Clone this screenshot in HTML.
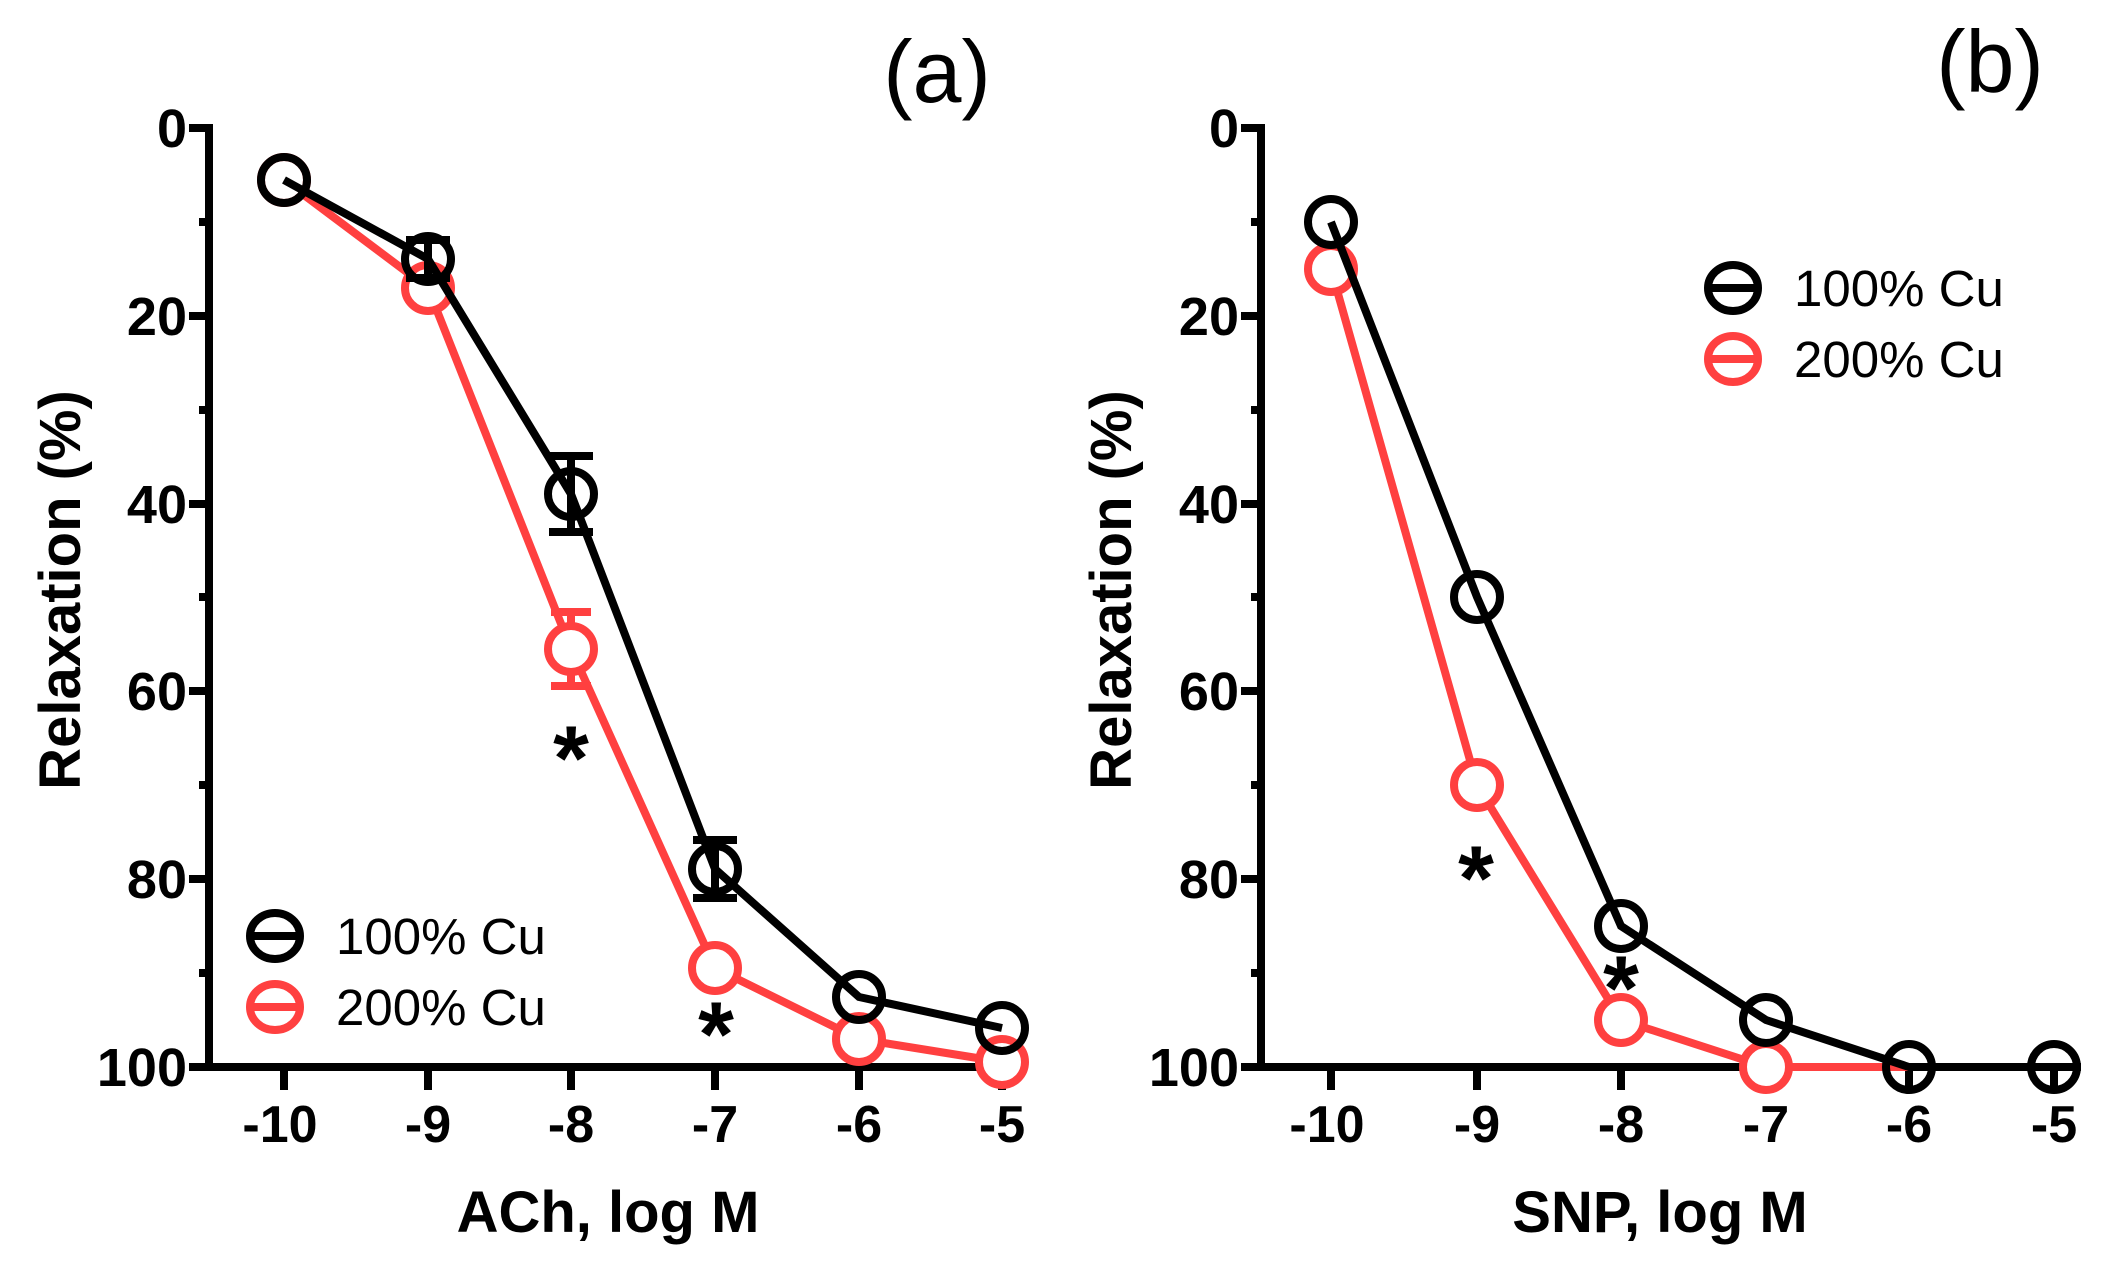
<!DOCTYPE html>
<html><head><meta charset="utf-8"><style>html,body{margin:0;padding:0;background:#fff}svg{display:block}</style></head>
<body>
<svg width="2108" height="1262" viewBox="0 0 2108 1262" xmlns="http://www.w3.org/2000/svg" font-family="Liberation Sans, Arial, sans-serif">
<defs>
<g id="yax">
  <line x1="0" y1="124" x2="0" y2="1071" stroke="#000" stroke-width="8"/>
  <g stroke="#000" stroke-width="8">
    <line x1="-20" y1="128" x2="0" y2="128"/><line x1="-20" y1="316" x2="0" y2="316"/><line x1="-20" y1="504" x2="0" y2="504"/>
    <line x1="-20" y1="691" x2="0" y2="691"/><line x1="-20" y1="879" x2="0" y2="879"/><line x1="-20" y1="1067" x2="0" y2="1067"/>
    <line x1="-10" y1="222" x2="0" y2="222"/><line x1="-10" y1="410" x2="0" y2="410"/><line x1="-10" y1="597" x2="0" y2="597"/>
    <line x1="-10" y1="785" x2="0" y2="785"/><line x1="-10" y1="973" x2="0" y2="973"/>
  </g>
  <g font-weight="bold" font-size="54" text-anchor="end">
    <text x="-22" y="147">0</text><text x="-22" y="335">20</text><text x="-22" y="523">40</text>
    <text x="-22" y="710">60</text><text x="-22" y="898">80</text><text x="-22" y="1086">100</text>
  </g>
</g>
</defs>

<!-- Panel a -->
<use href="#yax" x="209"/>
<line x1="205" y1="1067" x2="1013" y2="1067" stroke="#000" stroke-width="8"/>
<g stroke="#000" stroke-width="8">
<line x1="284" y1="1067" x2="284" y2="1090"/><line x1="428" y1="1067" x2="428" y2="1090"/><line x1="571" y1="1067" x2="571" y2="1090"/>
<line x1="715" y1="1067" x2="715" y2="1090"/><line x1="859" y1="1067" x2="859" y2="1090"/><line x1="1002" y1="1067" x2="1002" y2="1090"/>
</g>
<g font-weight="bold" font-size="52" text-anchor="middle">
<text x="280" y="1142">-10</text><text x="428" y="1142">-9</text><text x="571" y="1142">-8</text>
<text x="715" y="1142">-7</text><text x="859" y="1142">-6</text><text x="1002" y="1142">-5</text>
</g>
<text x="608" y="1232" font-weight="bold" font-size="58" text-anchor="middle">ACh, log M</text>
<text transform="translate(80,590) rotate(-90)" font-weight="bold" font-size="58" text-anchor="middle">Relaxation (%)</text>
<text x="937" y="102" font-size="88" text-anchor="middle">(a)</text>

<g fill="none" stroke="#ff4040" stroke-width="8">
<polyline points="284,180 428,288 571,649 715,968 859,1039 1002,1062"/>
<line x1="571" y1="612" x2="571" y2="686"/><line x1="551" y1="612" x2="591" y2="612"/><line x1="551" y1="686" x2="591" y2="686"/>
<circle cx="284" cy="180" r="23" fill="#fff"/><circle cx="428" cy="288" r="23" fill="#fff"/><circle cx="571" cy="649" r="23" fill="#fff"/>
<circle cx="715" cy="968" r="23" fill="#fff"/><circle cx="859" cy="1039" r="23" fill="#fff"/><circle cx="1002" cy="1062" r="23" fill="#fff"/>
</g>
<g fill="none" stroke="#000" stroke-width="8">
<polyline points="284,180 428,259 571,494 715,869 859,997 1002,1028"/>
<line x1="428" y1="240" x2="428" y2="278"/><line x1="406" y1="240" x2="450" y2="240"/><line x1="406" y1="278" x2="450" y2="278"/>
<line x1="571" y1="456" x2="571" y2="532"/><line x1="549" y1="456" x2="593" y2="456"/><line x1="549" y1="532" x2="593" y2="532"/>
<line x1="715" y1="840" x2="715" y2="898"/><line x1="693" y1="840" x2="737" y2="840"/><line x1="693" y1="898" x2="737" y2="898"/>
<circle cx="284" cy="180" r="23"/><circle cx="428" cy="259" r="23"/><circle cx="571" cy="494" r="23"/>
<circle cx="715" cy="869" r="23"/><circle cx="859" cy="997" r="23"/><circle cx="1002" cy="1028" r="23"/>
</g>
<g font-weight="bold" font-size="92" text-anchor="middle"><text x="571" y="790">*</text><text x="716" y="1066">*</text></g>
<!-- legend a -->
<g stroke-width="8" fill="none">
<ellipse cx="275" cy="936" rx="25" ry="23" stroke="#000"/><line x1="250" y1="936" x2="300" y2="936" stroke="#000"/>
<ellipse cx="275" cy="1007" rx="25" ry="23" stroke="#ff4040"/><line x1="250" y1="1007" x2="300" y2="1007" stroke="#ff4040"/>
</g>
<g font-size="51"><text x="336" y="954">100% Cu</text><text x="336" y="1025">200% Cu</text></g>

<!-- Panel b -->
<use href="#yax" x="1261"/>
<line x1="1257" y1="1067" x2="2081" y2="1067" stroke="#000" stroke-width="8"/>
<g stroke="#000" stroke-width="8">
<line x1="1331" y1="1067" x2="1331" y2="1090"/><line x1="1477" y1="1067" x2="1477" y2="1090"/><line x1="1621" y1="1067" x2="1621" y2="1090"/>
<line x1="1766" y1="1067" x2="1766" y2="1090"/><line x1="1909" y1="1067" x2="1909" y2="1090"/><line x1="2054" y1="1067" x2="2054" y2="1090"/>
</g>
<g font-weight="bold" font-size="52" text-anchor="middle">
<text x="1327" y="1142">-10</text><text x="1477" y="1142">-9</text><text x="1621" y="1142">-8</text>
<text x="1766" y="1142">-7</text><text x="1909" y="1142">-6</text><text x="2054" y="1142">-5</text>
</g>
<text x="1660" y="1232" font-weight="bold" font-size="58" text-anchor="middle">SNP, log M</text>
<text transform="translate(1131,590) rotate(-90)" font-weight="bold" font-size="58" text-anchor="middle">Relaxation (%)</text>
<text x="1990" y="92" font-size="88" text-anchor="middle">(b)</text>

<g fill="none" stroke="#ff4040" stroke-width="8">
<polyline points="1331,269 1477,785 1621,1020 1766,1067 1909,1067"/>
<circle cx="1331" cy="269" r="23" fill="#fff"/><circle cx="1477" cy="785" r="23" fill="#fff"/><circle cx="1621" cy="1020" r="23" fill="#fff"/>
<circle cx="1766" cy="1067" r="23" fill="#fff"/>
</g>
<g fill="none" stroke="#000" stroke-width="8">
<polyline points="1331,222 1477,597 1621,926 1766,1020 1909,1067 2054,1067"/>
<circle cx="1331" cy="222" r="23"/><circle cx="1477" cy="597" r="23"/><circle cx="1621" cy="926" r="23"/>
<circle cx="1766" cy="1020" r="23"/><circle cx="1909" cy="1067" r="23"/><circle cx="2054" cy="1067" r="23"/>
</g>
<g font-weight="bold" font-size="92" text-anchor="middle"><text x="1476" y="910">*</text><text x="1621" y="1020">*</text></g>
<!-- legend b -->
<g stroke-width="8" fill="none">
<ellipse cx="1733" cy="288" rx="25" ry="23" stroke="#000"/><line x1="1708" y1="288" x2="1758" y2="288" stroke="#000"/>
<ellipse cx="1733" cy="359" rx="25" ry="23" stroke="#ff4040"/><line x1="1708" y1="359" x2="1758" y2="359" stroke="#ff4040"/>
</g>
<g font-size="51"><text x="1794" y="306">100% Cu</text><text x="1794" y="377">200% Cu</text></g>
</svg>
</body></html>
